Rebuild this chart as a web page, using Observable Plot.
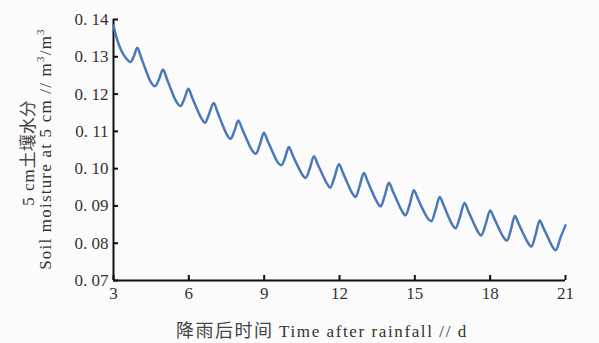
<!DOCTYPE html>
<html>
<head>
<meta charset="utf-8">
<script src="https://cdn.jsdelivr.net/npm/d3@7"></script>
<script src="https://cdn.jsdelivr.net/npm/@observablehq/plot@0.6"></script>
<style>
  html, body { margin: 0; padding: 0; background: #fbfbfb; }
</style>
</head>
<body>
<div id="chart"></div>
<script>
// Days after rainfall
const days = [
  3.00, 3.12, 3.30, 3.50, 3.68, 3.82,
  3.95, 4.10, 4.30, 4.47, 4.65, 4.82,
  4.97, 5.12, 5.32, 5.49, 5.67, 5.83,
  5.98, 6.13, 6.33, 6.50, 6.64, 6.81,
  6.99, 7.14, 7.34, 7.51, 7.66, 7.82,
  7.97, 8.12, 8.32, 8.49, 8.67, 8.83,
  8.99, 9.14, 9.34, 9.51, 9.69, 9.84,
  9.98, 10.13, 10.33, 10.50, 10.65, 10.82,
  10.98, 11.13, 11.33, 11.50, 11.63, 11.80,
  11.98, 12.13, 12.33, 12.50, 12.64, 12.80,
  12.97, 13.12, 13.32, 13.49, 13.64, 13.80,
  13.97, 14.12, 14.32, 14.49, 14.63, 14.80,
  14.96, 15.11, 15.31, 15.48, 15.66, 15.82,
  15.99, 16.14, 16.32, 16.48, 16.62, 16.80,
  16.98, 17.13, 17.33, 17.50, 17.64, 17.82,
  18.00, 18.15, 18.35, 18.52, 18.67, 18.83,
  18.98, 19.13, 19.33, 19.50, 19.64, 19.81,
  19.97, 20.12, 20.32, 20.48, 20.61, 20.80,
  21.00
];
// Soil moisture at 5 cm (m3/m3)
const moisture = [
  0.1384, 0.1352, 0.1318, 0.1296, 0.1286, 0.1303,
  0.1324, 0.1298, 0.1262, 0.1234, 0.1221, 0.1241,
  0.1266, 0.1242, 0.1207, 0.1181, 0.1168, 0.1189,
  0.1214, 0.1191, 0.1159, 0.1135, 0.1123, 0.1147,
  0.1176, 0.1152, 0.1118, 0.1092, 0.1080, 0.1102,
  0.1129, 0.1107, 0.1076, 0.1052, 0.1040, 0.1065,
  0.1096, 0.1074, 0.1044, 0.1020, 0.1009, 0.1031,
  0.1058, 0.1037, 0.1008, 0.0986, 0.0975, 0.1001,
  0.1033, 0.1012, 0.0983, 0.0960, 0.0949, 0.0977,
  0.1012, 0.0990, 0.0959, 0.0935, 0.0924, 0.0953,
  0.0988, 0.0966, 0.0935, 0.0911, 0.0899, 0.0927,
  0.0962, 0.0940, 0.0910, 0.0886, 0.0875, 0.0905,
  0.0942, 0.0921, 0.0892, 0.0870, 0.0859, 0.0888,
  0.0924, 0.0903, 0.0874, 0.0851, 0.0840, 0.0871,
  0.0908, 0.0886, 0.0856, 0.0832, 0.0821, 0.0851,
  0.0888, 0.0868, 0.0839, 0.0817, 0.0807, 0.0837,
  0.0873, 0.0853, 0.0824, 0.0802, 0.0791, 0.0823,
  0.0861, 0.0841, 0.0813, 0.0791, 0.0781, 0.0815,
  0.0848
];
const xTicks = [3, 6, 9, 12, 15, 18, 21];
const yTicks = [0.07, 0.08, 0.09, 0.10, 0.11, 0.12, 0.13, 0.14];

const data = days.map((d, i) => ({d, v: moisture[i]}));
const fmtY = v => v.toFixed(2).replace(".", ". ");
const serif = "Liberation Serif";

const chart = Plot.plot({
  width: 599,
  height: 343,
  marginLeft: 113,
  marginRight: 34,
  marginTop: 19,
  marginBottom: 63,
  x: {domain: [3, 21]},
  y: {domain: [0.07, 0.14]},
  style: {background: "#fbfbfb", fontFamily: serif, fontSize: "17px", color: "#222"},
  marks: [
    Plot.axisY({ticks: yTicks, tickSize: -5, strokeWidth: 2, stroke: "#111", text: null, label: null}),
    Plot.axisY({ticks: yTicks, tickSize: 0, tickPadding: 5, tickFormat: fmtY, label: null, fill: "#333", fontFamily: serif, fontSize: 17}),
    Plot.axisX({ticks: xTicks, tickSize: -5, strokeWidth: 2, stroke: "#111", text: null, label: null}),
    Plot.axisX({ticks: xTicks, tickSize: 0, tickPadding: 6, label: null, fill: "#333", fontFamily: serif, fontSize: 17}),
    Plot.ruleX([3], {stroke: "#111", strokeWidth: 2}),
    Plot.ruleY([0.07], {stroke: "#111", strokeWidth: 2}),
    Plot.line(data, {x: "d", y: "v", stroke: "#4a78b9", strokeWidth: 2.5, curve: "monotone-x"})
  ]
});

const svg = d3.select(chart);
// x-axis title
const xt = svg.append("text")
  .attr("x", 322).attr("y", 337)
  .attr("text-anchor", "middle")
  .attr("fill", "#333")
  .style("font-family", "'Liberation Serif', 'Noto Sans CJK SC', serif")
  .style("font-size", "17px");
xt.append("tspan").style("font-family", "'Noto Sans CJK SC'").style("font-size", "18px").style("letter-spacing", "1.5px").attr("fill", "#444").text("降雨后时间 ");
xt.append("tspan").style("letter-spacing", "1.6px").text("Time after rainfall // d");

// y-axis title, line 1
const yt1 = svg.append("text")
  .attr("transform", "translate(34,153) rotate(-90)")
  .attr("text-anchor", "middle")
  .attr("fill", "#333")
  .style("font-family", "'Liberation Serif', serif")
  .style("font-size", "17px");
yt1.append("tspan").style("letter-spacing", "1px").text("5 cm");
yt1.append("tspan").style("font-family", "'Noto Sans CJK SC'").style("font-size", "17px").attr("fill", "#444").text("土壤水分");

// y-axis title, line 2
const yt2 = svg.append("text")
  .attr("transform", "translate(51,149) rotate(-90)")
  .attr("text-anchor", "middle")
  .attr("fill", "#333")
  .style("font-family", "'Liberation Serif', serif")
  .style("font-size", "17px")
  .style("letter-spacing", "1.2px");
yt2.append("tspan").text("Soil moisture at 5 cm // m");
yt2.append("tspan").attr("dy", -7).style("font-size", "11px").text("3");
yt2.append("tspan").attr("dy", 7).text("/m");
yt2.append("tspan").attr("dy", -7).style("font-size", "11px").text("3");

document.getElementById("chart").appendChild(chart);
</script>
</body>
</html>
